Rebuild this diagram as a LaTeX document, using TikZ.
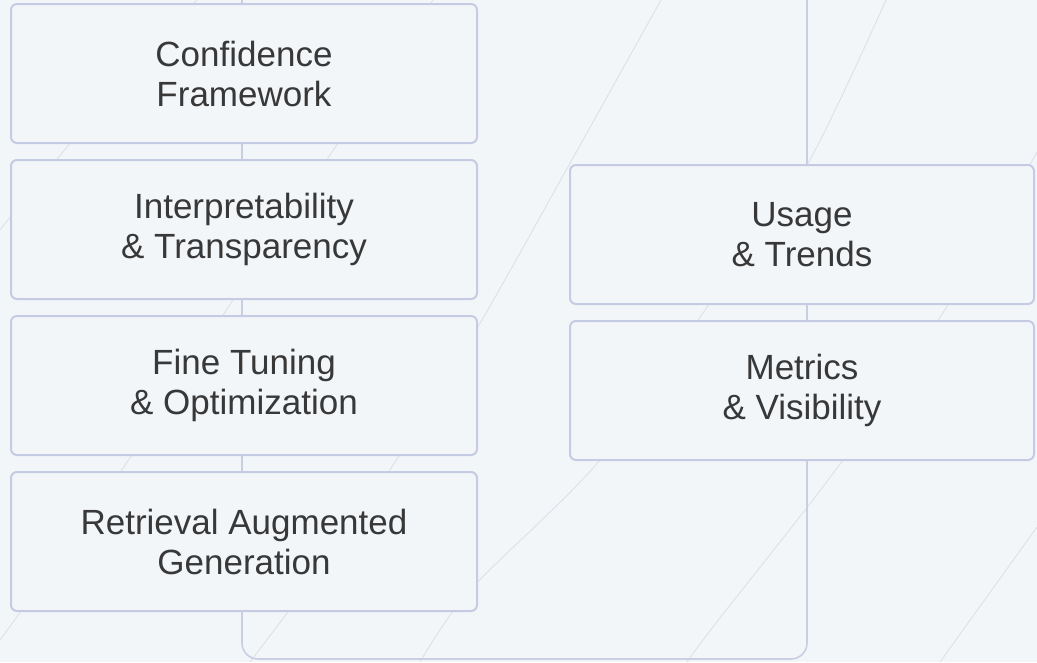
\documentclass[tikz,border=0pt]{standalone}
\usepackage{fontspec}
\setmainfont{Liberation Sans}
\definecolor{bgc}{HTML}{F3F6F9}
\definecolor{edgec}{HTML}{C6CBE4}
\definecolor{linec}{HTML}{C9CEE2}
\definecolor{txtc}{HTML}{383838}
\definecolor{decoc}{HTML}{DDE1E7}
\tikzset{
  card/.style={draw=edgec, line width=2pt, fill=bgc, rounded corners=6pt,
    minimum width=#1, minimum height=139pt, inner sep=0pt, align=center,
    text=txtc, font=\fontsize{35}{40}\selectfont},
  card/.default=466pt,
  link/.style={draw=linec, line width=1.6pt},
  deco/.style={draw=decoc, line width=0.9pt}
}
\begin{document}
\begin{tikzpicture}[x=1pt,y=-1pt]
\fill[bgc] (0,0) rectangle (1037,662);
\useasboundingbox (0,0) rectangle (1037,662);
% decorative background arcs
\draw[deco] plot[smooth] coordinates {(433,0) (320,170) (233,300) (115,480) (0,640)};
\draw[deco] plot[smooth] coordinates {(661,0) (569,165) (476,330) (370,500) (250,662)};
\draw[deco] plot[smooth] coordinates {(886,0) (807,165) (712,300) (600,460) (470,590) (420,662)};
\draw[deco] plot[smooth] coordinates {(1037,152) (951,300) (843,460) (716,623) (687,662)};
\draw[deco] plot[smooth] coordinates {(1037,527) (940,662)};
\draw[deco] plot[smooth] coordinates {(197,0) (127,75) (40,180) (0,230)};
% cards
\node[card] (l1) at (244,73.5) {Confidence\\Framework};
\node[card] (l2) at (244,229.5) {Interpretability\\\& Transparency};
\node[card] (l3) at (244,385.5) {Fine Tuning\\\& Optimization};
\node[card] (l4) at (244,541.5) {Retrieval Augmented\\Generation};
\node[card=464pt] (r1) at (802,234.5) {Usage\\\& Trends};
\node[card=464pt] (r2) at (802,390.5) {Metrics\\\& Visibility};
% connectors
\coordinate (ltop) at (242,0);
\coordinate (rtop) at (807,0);
\coordinate (bl) at (242,659);
\coordinate (br) at (807,659);
\draw[link] (ltop) -- ([xshift=-2pt]l1.north);
\draw[link] ([xshift=-2pt]l1.south) -- ([xshift=-2pt]l2.north);
\draw[link] ([xshift=-2pt]l2.south) -- ([xshift=-2pt]l3.north);
\draw[link] ([xshift=-2pt]l3.south) -- ([xshift=-2pt]l4.north);
\draw[link, rounded corners=16pt] ([xshift=-2pt]l4.south) -- (bl) -- (br) -- ([xshift=5pt]r2.south);
\draw[link] ([xshift=5pt]r2.north) -- ([xshift=5pt]r1.south);
\draw[link] ([xshift=5pt]r1.north) -- (rtop);
\end{tikzpicture}
\end{document}
